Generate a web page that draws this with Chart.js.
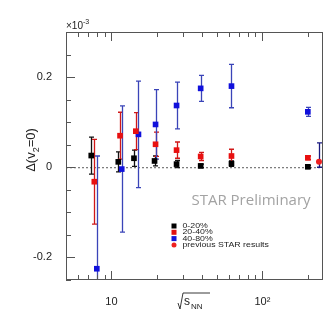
<!DOCTYPE html>
<html>
<head>
<meta charset="utf-8">
<script src="https://cdn.jsdelivr.net/npm/chart.js@4.4.0/dist/chart.umd.min.js"></script>
<style>
  html, body { margin: 0; padding: 0; background: #fff; }
</style>
</head>
<body>
<canvas id="chart" width="333" height="319"></canvas>
<script>
// Datos (eje y en unidades de 1e-3)
const energies0 = [7.35, 11.1, 14.1, 19.3, 27, 39, 62.4, 200];
const central0 = [0.026, 0.012, 0.020, 0.014, 0.007, 0.003, 0.008, 0.001];
const central0Err = [0.041, 0.022, 0.018, 0.011, 0.008, 0.004, 0.006, 0.003];

const energies1 = [7.7, 11.4, 14.5, 19.6, 27, 39, 62.4, 200];
const mid1 = [-0.032, 0.070, 0.080, 0.051, 0.038, 0.024, 0.025, 0.021];
const mid1Err = [0.094, 0.052, 0.041, 0.027, 0.018, 0.009, 0.015, 0.004];

const energies2 = [8.0, 11.7, 15.1, 19.6, 27, 39, 62.4, 200];
const periph2 = [-0.225, -0.004, 0.073, 0.095, 0.137, 0.175, 0.180, 0.123];
const periph2Err = [0.25, 0.14, 0.118, 0.077, 0.052, 0.029, 0.048, 0.010];

const prevEnergy = [237];
const prevValue = [0.012];
const prevErrUp = [0.042];
const prevErrDown = [0.012];

const yTickLabels = [-0.2, 0, 0.2];
const xTickLabels = [10, 100];
const legendLabels = ['0-20%', '20-40%', '40-80%', 'previous STAR results'];

const toPoints = (xs, ys) => xs.map((x, i) => ({ x: x, y: ys[i] }));

// Barras de error dibujadas con las escalas del gráfico
const errorBars = {
    id: 'errorBars',
    beforeDatasetsDraw(chart) {
        const { ctx, chartArea, scales: { x, y } } = chart;
        ctx.save();
        ctx.beginPath();
        ctx.rect(chartArea.left, chartArea.top, chartArea.right - chartArea.left, chartArea.bottom - chartArea.top);
        ctx.clip();

        // línea punteada en cero
        ctx.strokeStyle = '#333';
        ctx.lineWidth = 0.8;
        ctx.setLineDash([2, 2]);
        ctx.beginPath();
        ctx.moveTo(chartArea.left, y.getPixelForValue(0) + 0.5);
        ctx.lineTo(chartArea.right, y.getPixelForValue(0) + 0.5);
        ctx.stroke();
        ctx.setLineDash([]);

        chart.data.datasets.forEach(ds => {
            ds.data.forEach((p, i) => {
                const up = ds.errUp[i], down = ds.errDown[i];
                const px = Math.round(x.getPixelForValue(p.x)) + 0.5;
                const top = y.getPixelForValue(p.y + up);
                const bot = y.getPixelForValue(p.y - down);
                ctx.strokeStyle = ds.errColor;
                ctx.lineWidth = 1.3;
                ctx.beginPath();
                ctx.moveTo(px, top);
                ctx.lineTo(px, bot);
                ctx.moveTo(px - 2.5, top);
                ctx.lineTo(px + 2.5, top);
                ctx.moveTo(px - 2.5, bot);
                ctx.lineTo(px + 2.5, bot);
                ctx.stroke();
            });
        });
        ctx.restore();
    },
    afterDraw(chart) {
        const { ctx, chartArea, scales: { x, y } } = chart;
        const L = chartArea.left, R = chartArea.right, T = chartArea.top, B = chartArea.bottom;
        ctx.save();
        // marco
        ctx.strokeStyle = '#555';
        ctx.lineWidth = 1;
        ctx.strokeRect(L + 0.5, T + 0.5, R - L - 1, B - T - 1);

        // marcas del eje y (hacia dentro)
        ctx.beginPath();
        for (let k = -5; k <= 6; k++) {
            const v = k * 0.05;
            const py = Math.round(y.getPixelForValue(v)) + 0.5;
            const len = (k % 4 === 0) ? 9 : 5;
            ctx.moveTo(L, py);
            ctx.lineTo(L + len, py);
        }
        // marcas del eje x (abajo y arriba)
        const xt = [];
        for (let d = 1; d <= 100; d *= 10) {
            for (let m = 1; m <= 9; m++) xt.push(m * d);
        }
        xt.forEach(v => {
            if (v < x.min || v > x.max) return;
            const px = Math.round(x.getPixelForValue(v)) + 0.5;
            const len = (v === 10 || v === 100) ? 9 : 5;
            ctx.moveTo(px, B);
            ctx.lineTo(px, B - len);
            ctx.moveTo(px, T);
            ctx.lineTo(px, T + len);
        });
        ctx.stroke();

        // ×10^-3
        ctx.fillStyle = '#222';
        ctx.font = '10px "Liberation Sans", Arial, sans-serif';
        ctx.textBaseline = 'alphabetic';
        ctx.textAlign = 'left';
        ctx.fillText('\u00d710', L, T - 3);
        const w1 = ctx.measureText('\u00d710').width;
        ctx.font = '7px "Liberation Sans", Arial, sans-serif';
        ctx.fillText('-3', L + w1, T - 8);

        // título eje y: Δ(v2=0)
        ctx.save();
        ctx.translate(35, 150);
        ctx.rotate(-Math.PI / 2);
        const a = '\u0394(v', b = '2', c = '=0)';
        ctx.font = '13px "Liberation Sans", Arial, sans-serif';
        const wa = ctx.measureText(a).width, wc = ctx.measureText(c).width;
        ctx.font = '9px "Liberation Sans", Arial, sans-serif';
        const wb = ctx.measureText(b).width;
        let sx = -(wa + wb + wc) / 2;
        ctx.font = '13px "Liberation Sans", Arial, sans-serif';
        ctx.fillText(a, sx, 0);
        ctx.font = '9px "Liberation Sans", Arial, sans-serif';
        ctx.fillText(b, sx + wa, 4);
        ctx.font = '13px "Liberation Sans", Arial, sans-serif';
        ctx.fillText(c, sx + wa + wb, 0);
        ctx.restore();

        // título eje x: √s_NN
        ctx.strokeStyle = '#222';
        ctx.lineWidth = 0.9;
        ctx.beginPath();
        ctx.moveTo(178, 303);
        ctx.lineTo(180, 309);
        ctx.lineTo(183, 293);
        ctx.lineTo(210, 293);
        ctx.stroke();
        ctx.font = '12px "Liberation Sans", Arial, sans-serif';
        ctx.fillText('s', 184, 305);
        ctx.font = '8px "Liberation Sans", Arial, sans-serif';
        ctx.fillText('NN', 191, 309);

        // STAR Preliminary
        ctx.fillStyle = '#a3a3a3';
        ctx.font = '15px "Open Sans", "Liberation Sans", sans-serif';
        ctx.textAlign = 'center';
        ctx.textBaseline = 'middle';
        ctx.fillText('STAR Preliminary', 251, 201, 128);

        // leyenda
        const colors = ['#000000', '#e01010', '#1414d8', '#ee2020'];
        ctx.textAlign = 'left';
        ctx.textBaseline = 'middle';
        legendLabels.forEach((label, i) => {
            const ly = 226 + i * 6.3;
            ctx.fillStyle = colors[i];
            if (i < 3) {
                ctx.fillRect(171.5, ly - 2.5, 5, 5);
            } else {
                ctx.beginPath();
                ctx.arc(174, ly, 2.5, 0, Math.PI * 2);
                ctx.fill();
            }
            ctx.fillStyle = '#222';
            ctx.save();
            ctx.translate(182.5, ly);
            ctx.scale(1.25, 1);
            ctx.font = '7px "Liberation Sans", Arial, sans-serif';
            ctx.fillText(label, 0, 0);
            ctx.restore();
        });
        ctx.restore();
    }
};

const ctx = document.getElementById('chart').getContext('2d');
new Chart(ctx, {
    type: 'scatter',
    data: {
        datasets: [
            {
                label: '0-20%',
                data: toPoints(energies0, central0),
                errUp: central0Err, errDown: central0Err,
                errColor: '#111111',
                backgroundColor: '#000000',
                pointStyle: 'rect', pointRadius: 4, borderWidth: 0
            },
            {
                label: '20-40%',
                data: toPoints(energies1, mid1),
                errUp: mid1Err, errDown: mid1Err,
                errColor: '#d01818',
                backgroundColor: '#e81010',
                pointStyle: 'rect', pointRadius: 4, borderWidth: 0
            },
            {
                label: '40-80%',
                data: toPoints(energies2, periph2),
                errUp: periph2Err, errDown: periph2Err,
                errColor: '#3a44b8',
                backgroundColor: '#1010dc',
                pointStyle: 'rect', pointRadius: 4, borderWidth: 0
            },
            {
                label: 'previous STAR results',
                data: toPoints(prevEnergy, prevValue),
                errUp: prevErrUp, errDown: prevErrDown,
                errColor: '#1a1a80',
                backgroundColor: '#ee2020',
                pointStyle: 'circle', pointRadius: 3, borderWidth: 0
            }
        ]
    },
    options: {
        responsive: false,
        animation: false,
        devicePixelRatio: 1,
        layout: { padding: { top: 32, right: 10, left: 0, bottom: 0 } },
        plugins: { legend: { display: false }, tooltip: { enabled: false } },
        scales: {
            x: {
                type: 'logarithmic',
                min: 5,
                max: 252,
                grid: { display: false },
                border: { display: false },
                afterBuildTicks: s => { s.ticks = xTickLabels.map(v => ({ value: v })); },
                afterFit: s => { s.height = 39; },
                ticks: {
                    color: '#222',
                    padding: 7,
                    maxRotation: 0,
                    font: { family: '"Liberation Sans", Arial, sans-serif', size: 11 },
                    callback: v => (v === 10 ? '10' : '10\u00b2')
                }
            },
            y: {
                type: 'linear',
                min: -0.25,
                max: 0.3,
                grid: { display: false },
                border: { display: false },
                afterBuildTicks: s => { s.ticks = yTickLabels.map(v => ({ value: v })); },
                afterFit: s => { s.width = 66; },
                ticks: {
                    color: '#222',
                    padding: 6,
                    font: { family: '"Liberation Sans", Arial, sans-serif', size: 11 },
                    callback: v => (Math.abs(v) < 1e-9 ? '0' : String(Math.round(v * 10) / 10))
                }
            }
        }
    },
    plugins: [errorBars]
});
</script>
</body>
</html>
